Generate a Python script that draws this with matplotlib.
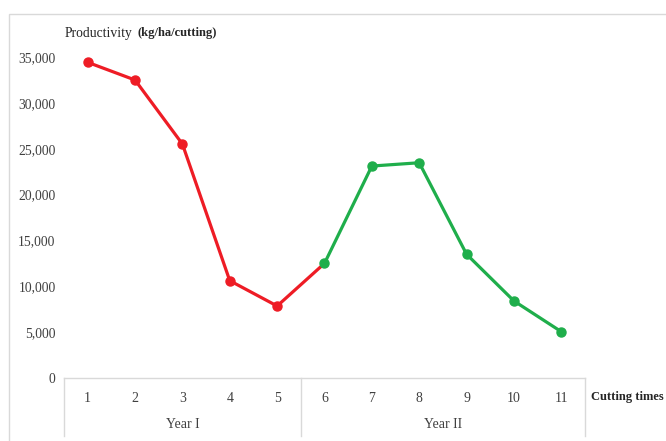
import matplotlib.pyplot as plt
from matplotlib.lines import Line2D
from matplotlib.patches import Rectangle

cuts = list(range(1, 12))
labels = [str(c) for c in cuts]
year1 = [34420, 32490, 25510, 10610, 7850]
year2 = [12500, 23110, 23470, 13490, 8400, 5050]
groups = ["Year I", "Year II"]
yticks = [0, 5000, 10000, 15000, 20000, 25000, 30000, 35000]

red = "#ee1c25"
green = "#1fae4b"
grey = "#d9d9d9"

plt.rcParams['font.family'] = ['Liberation Serif', 'DejaVu Serif']

fig = plt.figure(figsize=(6.66, 4.41), dpi=100)
W, H = 666, 441
ax = fig.add_axes([64 / W, 1 - 378 / H, (585 - 64) / W, (378 - 57) / H])

# red line runs on to the first year-II point
ax.plot(cuts[:6], year1 + year2[:1], color=red, lw=2.3, solid_capstyle='round', zorder=3)
ax.plot(cuts[:5], year1, 'o', color=red, ms=6.5, zorder=4)
ax.plot(cuts[5:], year2, '-o', color=green, lw=2.3, ms=6.5, zorder=5)

ax.set_xlim(0.5, 11.5)
ax.set_ylim(0, 35000)
ax.set_yticks(yticks)
ax.set_yticklabels([f"{v:,}" for v in yticks], fontsize=9.8, color="#404040")
ax.set_xticks(cuts)
ax.set_xticklabels(labels, fontsize=10, color="#404040")
ax.tick_params(axis='y', length=0, pad=6)
ax.tick_params(axis='x', length=0, pad=10)
for s in ['top', 'right', 'left']:
    ax.spines[s].set_visible(False)
ax.spines['bottom'].set_color(grey)
ax.spines['bottom'].set_linewidth(1)

# group separators below the category axis
for xp in [64, 301, 585]:
    fig.add_artist(Line2D([xp / W, xp / W], [1 - 378 / H, 1 - 436 / H],
                          color=grey, lw=1))
fig.text((64 + 301) / 2 / W, 1 - 424 / H, groups[0], ha='center', va='center',
         fontsize=10, color="#404040")
fig.text((301 + 585) / 2 / W, 1 - 424 / H, groups[1], ha='center', va='center',
         fontsize=10, color="#404040")

fig.text(591 / W, 1 - 397 / H, "Cutting times", ha='left', va='center',
         fontsize=9, fontweight='bold', color="#262626")
fig.text(65 / W, 1 - 33 / H, "Productivity", ha='left', va='center',
         fontsize=9.8, color="#262626")
fig.text(137 / W, 1 - 33 / H, "(kg/ha/cutting)", ha='left', va='center',
         fontsize=9, fontweight='bold', color="#262626")

# outer chart frame
fig.add_artist(Rectangle((9 / W, -0.1), 1.2, 1 - 14 / H + 0.1, fill=False,
                         edgecolor=grey, lw=1, transform=fig.transFigure))

fig.savefig("out.png", dpi=100)
